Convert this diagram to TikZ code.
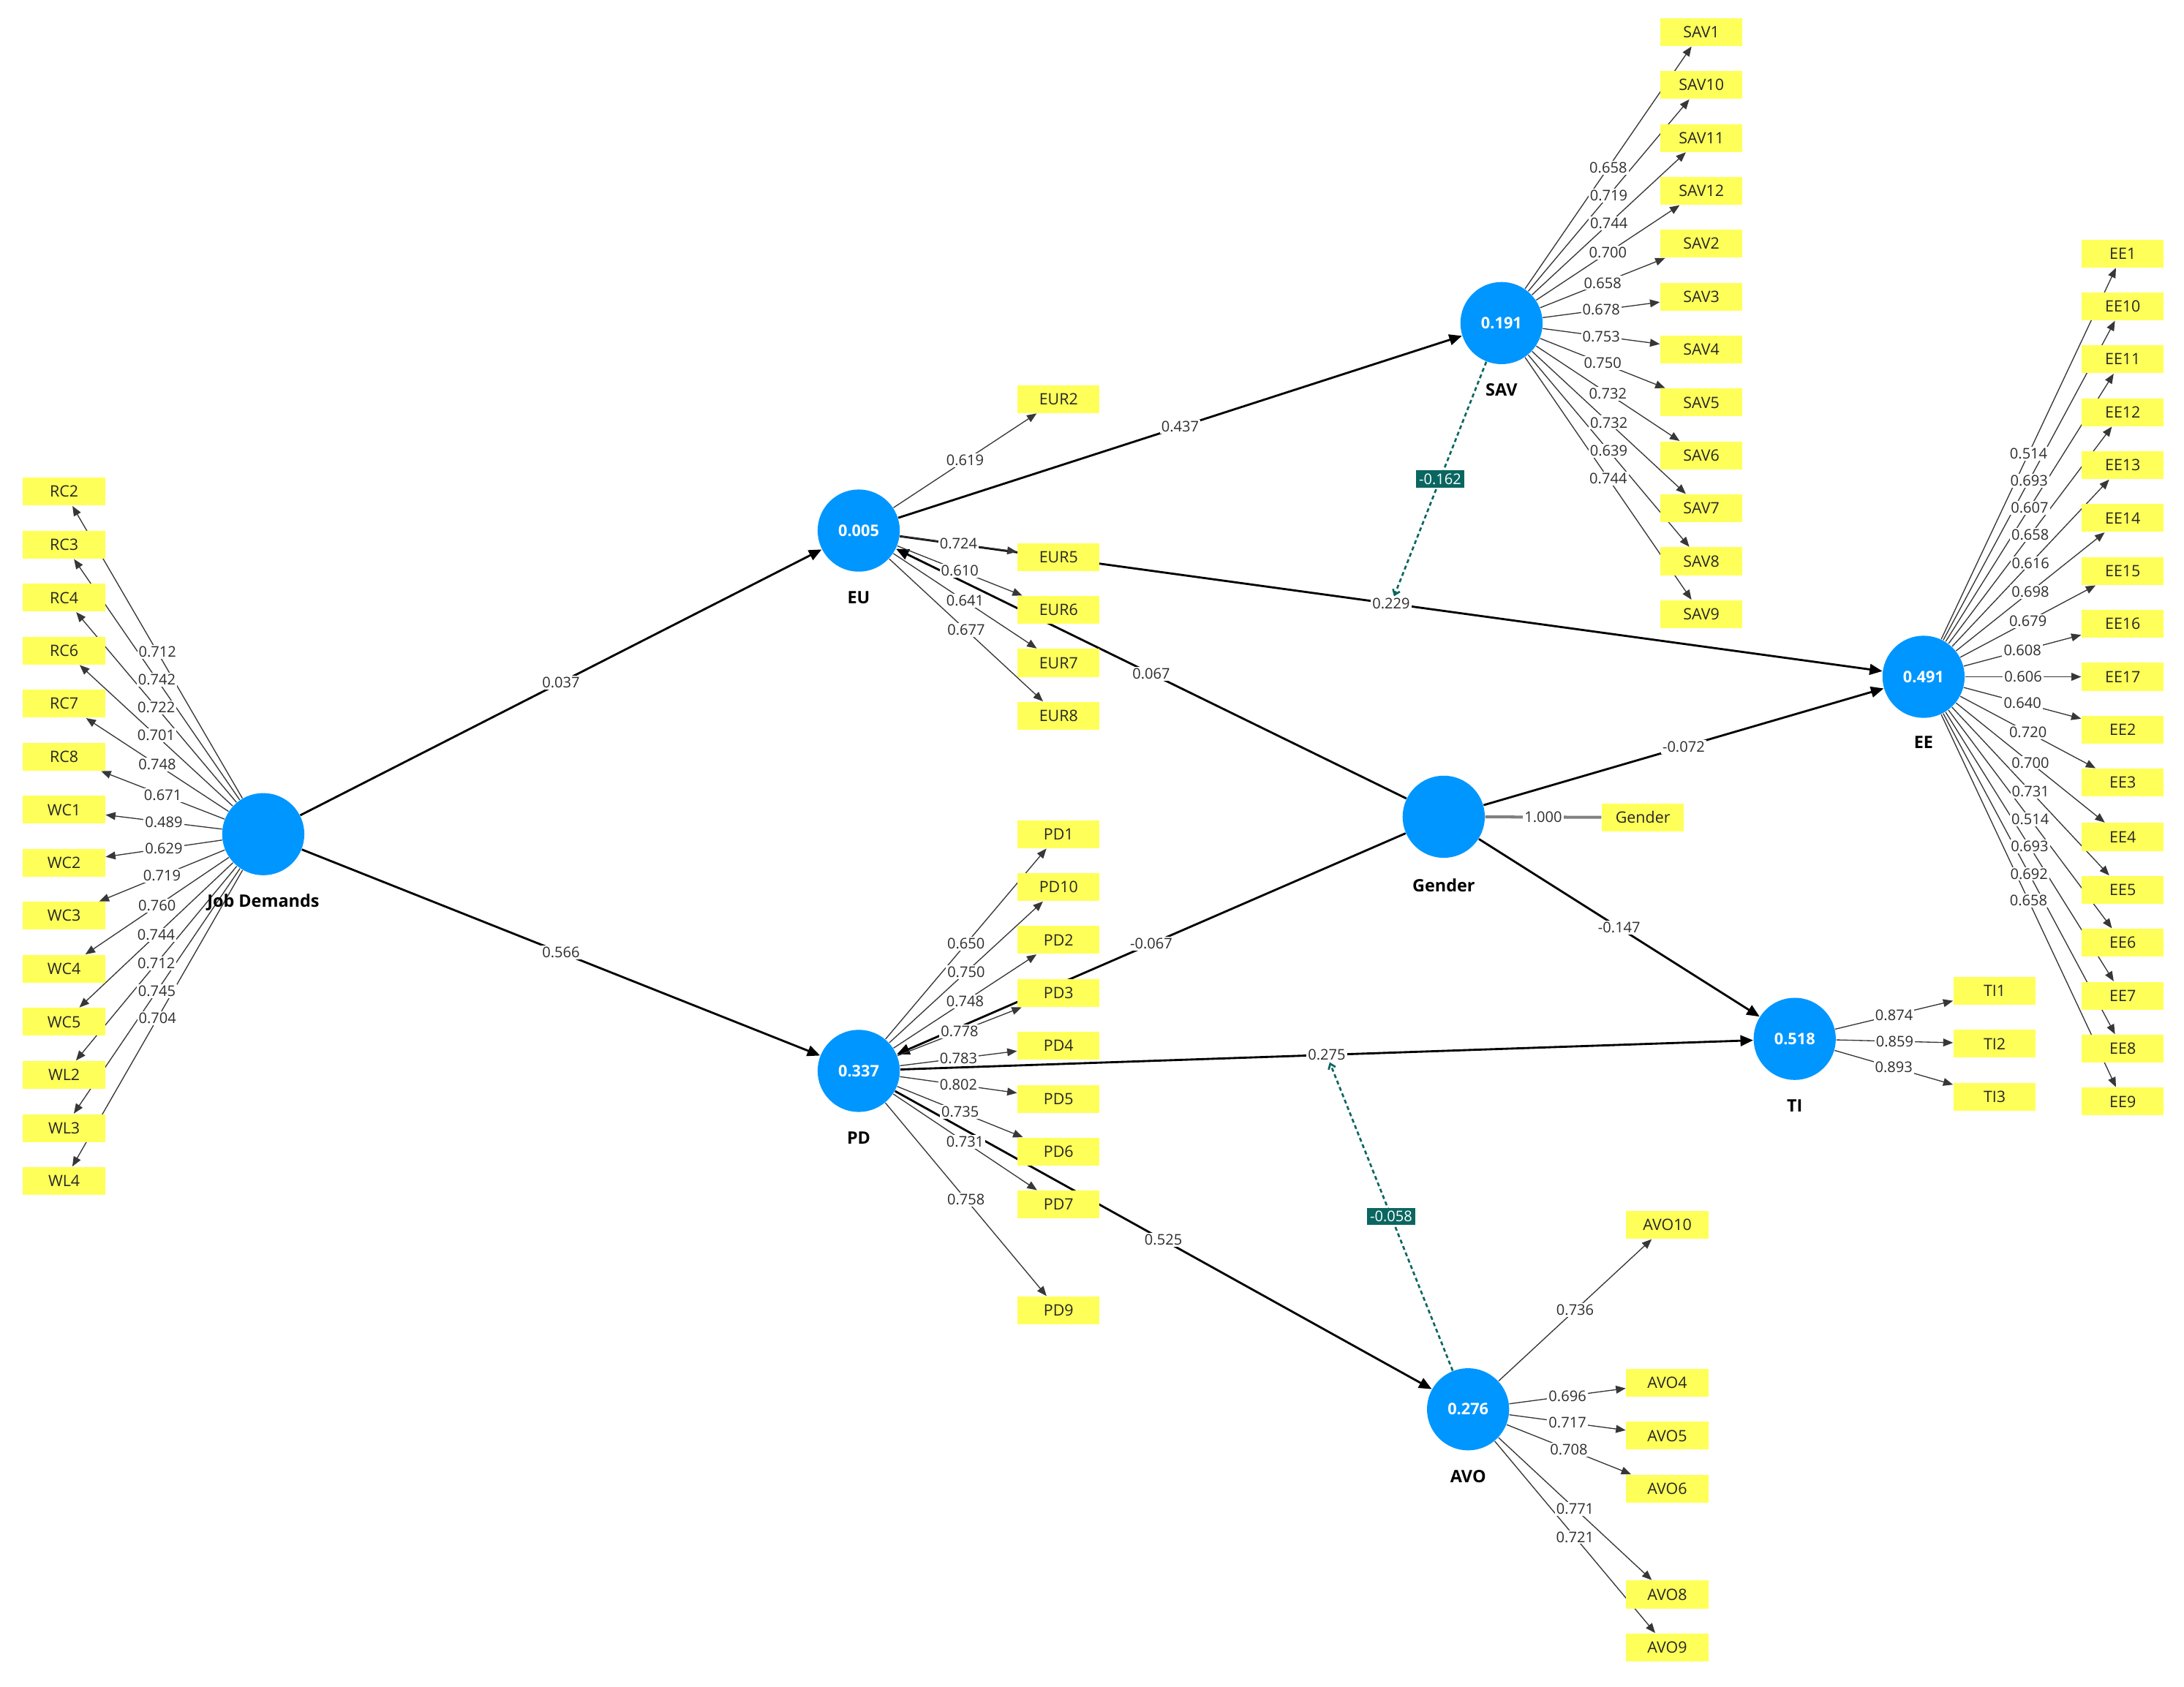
\documentclass[tikz,border=0pt]{standalone}
\usepackage{fontspec}
\setmainfont{Open Sans}
\usetikzlibrary{arrows.meta}
\definecolor{plsblue}{RGB}{0,150,255}
\definecolor{plsyellow}{RGB}{255,255,90}
\definecolor{lgray}{RGB}{55,55,55}
\definecolor{tgray}{RGB}{45,45,45}
\definecolor{modteal}{RGB}{10,102,96}
\pgfdeclarelayer{bg}
\pgfsetlayers{bg,main}
\newcommand\mkload[2]{%
  \foreach \nm/\vv in {#2}{%
    \begin{pgfonlayer}{bg}\draw[ld] (#1) -- (\nm);\end{pgfonlayer}%
    \path (#1) -- (\nm) node[midway,lab]{\vv};%
  }}
\newcommand\mkpath[4]{%
  \begin{pgfonlayer}{bg}\draw[st] (#1) -- (#2);\end{pgfonlayer}%
  \path (#1) -- (#2) node[midway,lab,name=#4]{#3};}
\begin{document}
\begin{tikzpicture}[x=0.02cm,y=-0.02cm,
  lat/.style={circle,fill=plsblue,minimum size=1.18cm,inner sep=0pt,text=white,font=\fontsize{6.5}{7}\selectfont\bfseries},
  latname/.style={font=\fontsize{7}{8}\selectfont\bfseries,text=black},
  ind/.style={rectangle,fill=plsyellow,minimum width=1.18cm,minimum height=0.4cm,inner sep=0pt,font=\fontsize{6.4}{7}\selectfont,text=black!85},
  ld/.style={draw=lgray,line width=0.4pt,-{Triangle[length=4pt,width=3.2pt]}},
  st/.style={draw=black,line width=0.85pt,-{Triangle[length=5.2pt,width=4.4pt]}},
  lab/.style={fill=white,inner sep=0.6pt,font=\fontsize{6}{7}\selectfont,text=tgray},
  mod/.style={draw=modteal,line width=0.8pt,dash pattern=on 1.6pt off 1.2pt,-{Straight Barb[length=2pt,width=3pt]}},
  modlab/.style={fill=modteal,text=white,inner sep=1.3pt,font=\fontsize{6}{7}\selectfont},
  single/.style={draw=gray,line width=1.2pt}
]
\begin{pgfonlayer}{bg}
\path[use as bounding box,fill=white] (0,0) rectangle (1568,1211);
\end{pgfonlayer}

% latent variables
\node[lat] (JD) at (189,599) {};
\node[latname] at (189,648) {Job Demands};
\node[lat] (EU) at (616.5,381) {0.005};
\node[latname] at (616.5,429) {EU};
\node[lat] (PD) at (616.5,769) {0.337};
\node[latname] at (616.5,817) {PD};
\node[lat] (SAV) at (1078,232) {0.191};
\node[latname] at (1078,280) {SAV};
\node[lat] (EE) at (1381,486) {0.491};
\node[latname] at (1381,533) {EE};
\node[lat] (Gen) at (1036.5,586.5) {};
\node[latname] at (1036.5,636) {Gender};
\node[lat] (TI) at (1288.5,746) {0.518};
\node[latname] at (1288.5,794) {TI};
\node[lat] (AVO) at (1054,1012) {0.276};
\node[latname] at (1054,1060) {AVO};

% indicators
\foreach \nm/\yy in {RC2/353,RC3/391.1,RC4/429.2,RC6/467.2,RC7/505.3,RC8/543.4,WC1/581.5,WC2/619.6,WC3/657.6,WC4/695.7,WC5/733.8,WL2/771.9,WL3/810,WL4/848}
  {\node[ind] (\nm) at (46,\yy) {\nm};}
\foreach \nm/\yy in {EUR2/286.5,EUR5/400.2,EUR6/438,EUR7/476,EUR8/514}
  {\node[ind] (\nm) at (760,\yy) {\nm};}
\foreach \nm/\yy in {PD1/599,PD10/637,PD2/675,PD3/713,PD4/751,PD5/789,PD6/827,PD7/865,PD9/941}
  {\node[ind] (\nm) at (760,\yy) {\nm};}
\foreach \nm/\yy in {SAV1/23,SAV10/61,SAV11/99,SAV12/137,SAV2/175,SAV3/213,SAV4/251,SAV5/289,SAV6/327,SAV7/365,SAV8/403,SAV9/441}
  {\node[ind] (\nm) at (1221.5,\yy) {\nm};}
\foreach \nm/\yy in {EE1/182,EE10/220,EE11/258,EE12/296,EE13/334,EE14/372,EE15/410,EE16/448,EE17/486,EE2/524,EE3/562,EE4/601,EE5/639,EE6/677,EE7/715,EE8/753,EE9/791}
  {\node[ind] (\nm) at (1524,\yy) {\nm};}
\foreach \nm/\yy in {TI1/711.5,TI2/749.5,TI3/787.5}
  {\node[ind] (\nm) at (1432,\yy) {\nm};}
\foreach \nm/\yy in {AVO10/879.5,AVO4/993,AVO5/1031,AVO6/1069,AVO8/1145,AVO9/1183}
  {\node[ind] (\nm) at (1197,\yy) {\nm};}
\node[ind] (GenI) at (1179.5,587) {Gender};

% structural paths
\mkpath{JD}{EU}{0.037}{l037}
\mkpath{JD}{PD}{0.566}{l566}
\mkpath{EU}{SAV}{0.437}{l437}
\mkpath{EU}{EE}{0.229}{l229}
\mkpath{Gen}{EU}{0.067}{l067}
\mkpath{Gen}{PD}{-0.067}{lm067}
\mkpath{Gen}{EE}{-0.072}{l072}
\mkpath{Gen}{TI}{-0.147}{l147}
\mkpath{PD}{TI}{0.275}{l275}
\mkpath{PD}{AVO}{0.525}{l525}

\begin{pgfonlayer}{bg}\draw[single] (Gen) -- (GenI);\end{pgfonlayer}
\path (Gen) -- (GenI) node[midway,lab]{1.000};

% moderating effects
\begin{pgfonlayer}{bg}
\draw[mod] (SAV) -- (l229);
\draw[mod] (AVO) -- (l275);
\end{pgfonlayer}
\path (SAV) -- (l229) node[midway,modlab]{-0.162};
\path (AVO) -- (l275) node[midway,modlab]{-0.058};

% outer loadings
\mkload{JD}{RC2/0.712,RC3/0.742,RC4/0.722,RC6/0.701,RC7/0.748,RC8/0.671,WC1/0.489,WC2/0.629,WC3/0.719,WC4/0.760,WC5/0.744,WL2/0.712,WL3/0.745,WL4/0.704}
\mkload{EU}{EUR2/0.619,EUR5/0.724,EUR6/0.610,EUR7/0.641,EUR8/0.677}
\mkload{PD}{PD1/0.650,PD10/0.750,PD2/0.748,PD3/0.778,PD4/0.783,PD5/0.802,PD6/0.735,PD7/0.731,PD9/0.758}
\mkload{SAV}{SAV1/0.658,SAV10/0.719,SAV11/0.744,SAV12/0.700,SAV2/0.658,SAV3/0.678,SAV4/0.753,SAV5/0.750,SAV6/0.732,SAV7/0.732,SAV8/0.639,SAV9/0.744}
\mkload{EE}{EE1/0.514,EE10/0.693,EE11/0.607,EE12/0.658,EE13/0.616,EE14/0.698,EE15/0.679,EE16/0.608,EE17/0.606,EE2/0.640,EE3/0.720,EE4/0.700,EE5/0.731,EE6/0.514,EE7/0.693,EE8/0.692,EE9/0.658}
\mkload{TI}{TI1/0.874,TI2/0.859,TI3/0.893}
\mkload{AVO}{AVO10/0.736,AVO4/0.696,AVO5/0.717,AVO6/0.708,AVO8/0.771,AVO9/0.721}
\end{tikzpicture}
\end{document}
